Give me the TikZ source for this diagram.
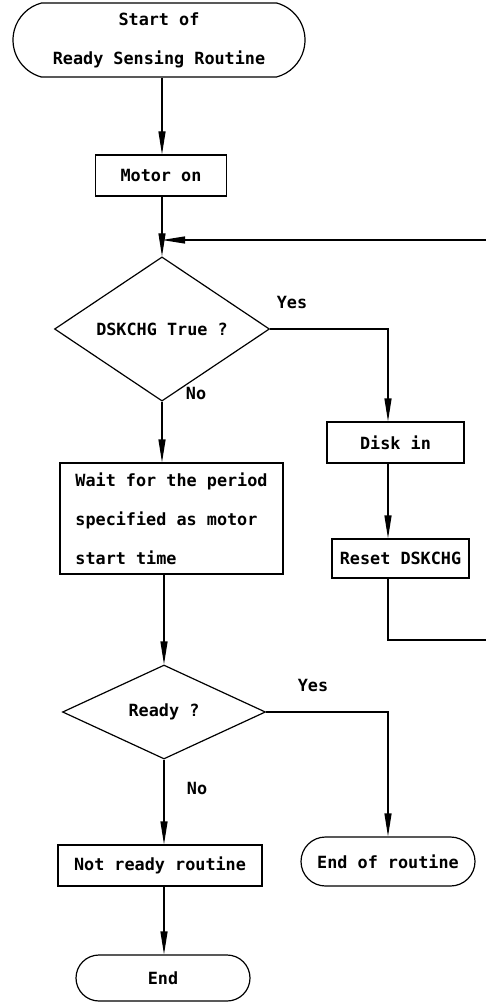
\documentclass[tikz,border=0pt]{standalone}
\usepackage{fontspec}
\setmonofont{DejaVu Sans Mono}
\usetikzlibrary{shapes.geometric,shapes.misc,arrows.meta}
\begin{document}
\begin{tikzpicture}[x=1pt,y=1pt,
  every node/.style={font=\fontsize{16.8}{39}\ttfamily\bfseries, line width=1.2pt, inner sep=0pt},
  box/.style={draw, rectangle},
  term/.style={draw, rounded rectangle},
  dec/.style={draw, diamond},
  ln/.style={line width=1.2pt},
  arr/.style={line width=1.2pt, -{Triangle[length=23pt,width=7pt]}}]
\useasboundingbox (0,0) rectangle (486,-1003);
% nodes
\node[term, rounded rectangle arc length=150, minimum width=292pt, minimum height=74pt, align=center] (start) at (159,-40) {Start of\\Ready Sensing Routine};
\node[box, minimum width=131pt, minimum height=41pt] (motor) at (161,-175.5) {Motor on};
\node[dec, minimum width=215pt, minimum height=102pt] (d1) at (162,-329) {DSKCHG True ?};
\node (yes1) at (292,-302) {Yes};
\node (no1) at (196,-393) {No};
\node[box, minimum width=137pt, minimum height=41pt] (disk) at (395.5,-442.5) {Disk in};
\node[box, minimum width=137pt, minimum height=39pt] (reset) at (400.5,-558.5) {Reset DSKCHG};
\node[box, minimum width=223pt, minimum height=111pt, align=left] (wait) at (171.5,-518.5) {Wait for the period\\specified as motor\\start time};
\node[dec, minimum width=203pt, minimum height=94pt] (d2) at (164,-712) {Ready ?};
\node (yes2) at (313,-685) {Yes};
\node (no2) at (197,-788) {No};
\node[term, minimum width=174pt, minimum height=49pt] (endr) at (388,-861.5) {End of routine};
\node[box, minimum width=204pt, minimum height=41pt] (notready) at (160,-865.5) {Not ready routine};
\node[term, minimum width=174pt, minimum height=46pt] (endn) at (163,-978) {End};
% coordinates
\coordinate (colL) at (162,0);
\coordinate (colR) at (388,0);
\coordinate (merge) at (162,-240);
\coordinate (loopB) at (495,-640);
\coordinate (loopT) at (495,-240);
% connectors
\draw[arr] (start.south -| colL) -- (motor.north -| colL);
\draw[arr] (motor.south -| colL) -- (d1.north);
\draw[arr] (loopT) -- (merge);
\draw[arr] (d1.east) -| (disk.north -| colR);
\draw[arr] (disk.south -| colR) -- (reset.north -| colR);
\draw[ln] (reset.south -| colR) |- (loopB) -- (loopT);
\draw[arr] (d1.south) -- (wait.north -| d1.south);
\draw[arr] (wait.south -| d2.north) -- (d2.north);
\draw[arr] (d2.east) -| (endr.north -| colR);
\draw[arr] (d2.south) -- (notready.north -| d2.south);
\draw[arr] (notready.south -| d2.south) -- (endn.north -| d2.south);
\end{tikzpicture}
\end{document}
